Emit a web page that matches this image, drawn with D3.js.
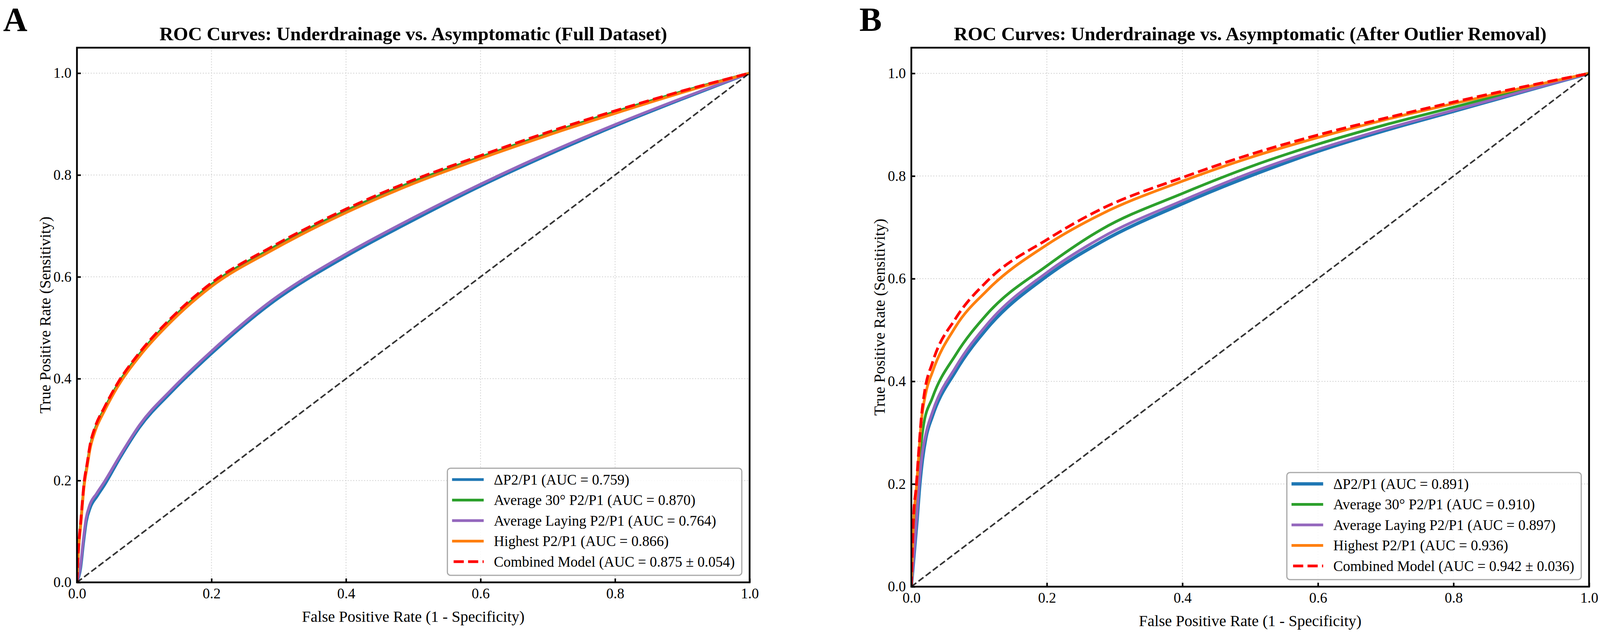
<!DOCTYPE html>
<html>
<head>
<meta charset="utf-8">
<script src="https://cdn.jsdelivr.net/npm/d3@7/dist/d3.min.js"></script>
<style>
  html, body { margin: 0; padding: 0; background: #fff; }
  svg { display: block; }
  text { font-family: "Liberation Serif", "Times New Roman", serif; }
</style>
</head>
<body>
<svg id="chart" width="4117" height="1617"></svg>
<script>
// ---------------- DATA ----------------
const seriesNames = ["ΔP2/P1", "Average 30° P2/P1", "Average Laying P2/P1", "Highest P2/P1", "Combined Model"];
const seriesColors = ["#1f77b4", "#2ca02c", "#9467bd", "#ff7f0e", "#ff0000"];
const aucLabelsA = ["0.759", "0.870", "0.764", "0.866", "0.875 ± 0.054"];
const aucLabelsB = ["0.891", "0.910", "0.897", "0.936", "0.942 ± 0.036"];
const xTicks = [0, 0.2, 0.4, 0.6, 0.8, 1.0];
const yTicks = [0, 0.2, 0.4, 0.6, 0.8, 1.0];
const titleA = "ROC Curves: Underdrainage vs. Asymptomatic (Full Dataset)";
const titleB = "ROC Curves: Underdrainage vs. Asymptomatic (After Outlier Removal)";
const xLabel = "False Positive Rate (1 - Specificity)";
const yLabel = "True Positive Rate (Sensitivity)";

// Panel A curves [FPR, TPR]
const rocA_delta = [[0,0],[0.0055,0.027],[0.0098,0.077],[0.014,0.119],[0.02,0.147],[0.03,0.169],[0.041,0.191],[0.064,0.244],[0.093,0.304],[0.1416,0.375],[0.2,0.449],[0.287,0.546],[0.4,0.64],[0.5,0.711],[0.6,0.778],[0.7,0.839],[0.8,0.896],[0.9,0.949],[1,1]];
const rocA_avg30 = [[0,0],[0.002,0.058],[0.006,0.122],[0.0105,0.191],[0.0153,0.232],[0.0192,0.264],[0.027,0.301],[0.0406,0.34],[0.06,0.387],[0.093,0.448],[0.1416,0.518],[0.2,0.585],[0.287,0.654],[0.4,0.73],[0.5,0.787],[0.6,0.835],[0.7,0.881],[0.8,0.924],[0.9,0.964],[1,1]];
const rocA_laying = [[0,0],[0.005,0.03],[0.0093,0.082],[0.0135,0.125],[0.019,0.152],[0.029,0.174],[0.04,0.196],[0.064,0.249],[0.093,0.309],[0.1416,0.38],[0.2,0.454],[0.287,0.551],[0.4,0.645],[0.5,0.716],[0.6,0.782],[0.7,0.843],[0.8,0.899],[0.9,0.951],[1,1]];
const rocA_highest = [[0,0],[0.002,0.055],[0.006,0.118],[0.0105,0.187],[0.0153,0.228],[0.0192,0.26],[0.027,0.297],[0.0406,0.336],[0.06,0.383],[0.093,0.444],[0.1416,0.514],[0.2,0.581],[0.287,0.65],[0.4,0.726],[0.5,0.783],[0.6,0.832],[0.7,0.878],[0.8,0.921],[0.9,0.962],[1,1]];
const rocA_combined = [[0,0],[0.002,0.06],[0.006,0.125],[0.0105,0.195],[0.0153,0.235],[0.0192,0.268],[0.027,0.305],[0.0406,0.343],[0.06,0.39],[0.093,0.451],[0.1416,0.521],[0.2,0.588],[0.287,0.657],[0.4,0.733],[0.5,0.79],[0.6,0.838],[0.7,0.884],[0.8,0.926],[0.9,0.965],[1,1]];

// Panel B curves [FPR, TPR]
const rocB_delta = [[0,0],[0.0085,0.13],[0.0125,0.198],[0.0165,0.248],[0.0215,0.29],[0.0311,0.332],[0.0656,0.42],[0.1117,0.503],[0.2,0.605],[0.2806,0.672],[0.4,0.746],[0.5,0.80],[0.6,0.848],[0.7,0.889],[0.8,0.926],[0.9,0.963],[1,1]];
const rocB_avg30 = [[0,0],[0.0061,0.138],[0.01,0.205],[0.0138,0.27],[0.0177,0.312],[0.0311,0.368],[0.0656,0.452],[0.1117,0.531],[0.2,0.625],[0.2806,0.696],[0.4,0.766],[0.5,0.818],[0.6,0.862],[0.7,0.9],[0.8,0.934],[0.9,0.968],[1,1]];
const rocB_laying = [[0,0],[0.0081,0.138],[0.0119,0.205],[0.0157,0.255],[0.0215,0.298],[0.0311,0.34],[0.0656,0.428],[0.1117,0.511],[0.2,0.612],[0.2806,0.68],[0.4,0.752],[0.5,0.806],[0.6,0.852],[0.7,0.892],[0.8,0.928],[0.9,0.964],[1,1]];
const rocB_highest = [[0,0],[0.0033,0.13],[0.0071,0.185],[0.0109,0.255],[0.0148,0.322],[0.0215,0.378],[0.0311,0.418],[0.0656,0.507],[0.1117,0.577],[0.2,0.666],[0.2806,0.726],[0.4,0.79],[0.5,0.836],[0.6,0.875],[0.7,0.91],[0.8,0.941],[0.9,0.971],[1,1]];
const rocB_combined = [[0,0],[0.0033,0.138],[0.0071,0.193],[0.0109,0.264],[0.0148,0.33],[0.0196,0.38],[0.0311,0.436],[0.0656,0.523],[0.1117,0.595],[0.2,0.676],[0.2806,0.736],[0.4,0.797],[0.5,0.842],[0.6,0.88],[0.7,0.913],[0.8,0.944],[0.9,0.973],[1,1]];

const diagonal = [[0,0],[1,1]];

// ---------------- DRAW ----------------
const FONT = "'Liberation Serif', 'Times New Roman', serif";
const svg = d3.select("#chart");
svg.append("rect").attr("width", 4117).attr("height", 1617).attr("fill", "#fff");

const panels = [
  { letter: "A", letterX: 8, title: titleA, aucs: aucLabelsA,
    curves: [rocA_delta, rocA_avg30, rocA_laying, rocA_highest, rocA_combined],
    widths: [7, 7, 7, 7, 7],
    box: { left: 197, right: 1919, top: 122, bottom: 1490 } },
  { letter: "B", letterX: 2200, title: titleB, aucs: aucLabelsB,
    curves: [rocB_delta, rocB_avg30, rocB_laying, rocB_highest, rocB_combined],
    widths: [8.5, 7, 7, 7, 7],
    box: { left: 2333, right: 4068, top: 122, bottom: 1501 } }
];

panels.forEach(p => {
  const b = p.box;
  const x = d3.scaleLinear().domain([0, 1]).range([b.left, b.right]);
  const y = d3.scaleLinear().domain([0, 1.05]).range([b.bottom, b.top]);
  const g = svg.append("g");

  // grid
  g.append("g").selectAll("line").data(xTicks).join("line")
    .attr("x1", d => x(d)).attr("x2", d => x(d))
    .attr("y1", b.top).attr("y2", b.bottom)
    .attr("stroke", "#d4d4d4").attr("stroke-width", 2).attr("stroke-dasharray", "3,4");
  g.append("g").selectAll("line").data(yTicks).join("line")
    .attr("y1", d => y(d)).attr("y2", d => y(d))
    .attr("x1", b.left).attr("x2", b.right)
    .attr("stroke", "#d4d4d4").attr("stroke-width", 2).attr("stroke-dasharray", "3,4");

  const clipId = "clip" + p.letter;
  svg.append("clipPath").attr("id", clipId).append("rect")
    .attr("x", b.left).attr("y", b.top).attr("width", b.right - b.left).attr("height", b.bottom - b.top);

  const line = d3.line().x(d => x(d[0])).y(d => y(d[1])).curve(d3.curveMonotoneX);
  const cg = g.append("g").attr("clip-path", `url(#${clipId})`);

  p.curves.forEach((c, i) => {
    const path = cg.append("path").datum(c)
      .attr("d", line)
      .attr("fill", "none")
      .attr("stroke", seriesColors[i])
      .attr("stroke-width", p.widths[i])
      .attr("stroke-linejoin", "round");
    if (i === 4) path.attr("stroke-dasharray", "26,11");
  });

  // diagonal reference
  cg.append("path").datum(diagonal)
    .attr("d", d3.line().x(d => x(d[0])).y(d => y(d[1])))
    .attr("fill", "none").attr("stroke", "#000").attr("stroke-opacity", 0.8)
    .attr("stroke-width", 4).attr("stroke-dasharray", "16,7");

  // axes (ticks inward)
  const xa = g.append("g").attr("transform", `translate(0,${b.bottom})`)
    .call(d3.axisBottom(x).tickValues(xTicks).tickFormat(d3.format(".1f")).tickSize(-10).tickPadding(15));
  const ya = g.append("g").attr("transform", `translate(${b.left},0)`)
    .call(d3.axisLeft(y).tickValues(yTicks).tickFormat(d3.format(".1f")).tickSize(-10).tickPadding(14));
  [xa, ya].forEach(a => {
    a.attr("font-family", null).attr("font-size", null);
    a.select(".domain").remove();
    a.selectAll(".tick line").attr("stroke", "#000").attr("stroke-width", 4);
    a.selectAll(".tick text").style("font-size", "37px").attr("fill", "#000")
      .style("font-family", FONT);
  });

  // spines
  g.append("rect").attr("x", b.left).attr("y", b.top)
    .attr("width", b.right - b.left).attr("height", b.bottom - b.top)
    .attr("fill", "none").attr("stroke", "#000").attr("stroke-width", 4.5);

  // title
  g.append("text").attr("x", (b.left + b.right) / 2).attr("y", 103)
    .attr("text-anchor", "middle").attr("font-size", 49).attr("font-weight", "bold")
    .text(p.title);

  // panel letter
  g.append("text").attr("x", p.letterX).attr("y", 79)
    .attr("font-size", 86).attr("font-weight", "bold").text(p.letter);

  // axis labels
  g.append("text").attr("x", (b.left + b.right) / 2).attr("y", b.bottom + 101)
    .attr("text-anchor", "middle").attr("font-size", 40).text(xLabel);
  g.append("text")
    .attr("transform", `translate(${b.left - 68},${(b.top + b.bottom) / 2}) rotate(-90)`)
    .attr("text-anchor", "middle").attr("font-size", 40).text(yLabel);

  // legend
  const lg = g.append("g");
  const frame = lg.append("rect");
  const texts = seriesNames.map((n, i) => lg.append("text")
    .attr("font-size", 37).attr("fill", "#000").attr("dy", "0.35em")
    .text(`${n} (AUC = ${p.aucs[i]})`));
  const maxW = d3.max(texts, t => t.node().getComputedTextLength());
  const boxW = 12 + 81 + 26 + maxW + 18;
  const boxH = 274;
  const bx = b.right - 20 - boxW;
  const by = b.bottom - 18 - boxH;
  frame.attr("x", bx).attr("y", by).attr("width", boxW).attr("height", boxH)
    .attr("rx", 8).attr("fill", "#fff").attr("fill-opacity", 0.85)
    .attr("stroke", "#a8a8a8").attr("stroke-width", 3);
  texts.forEach((t, i) => {
    const cy = by + 29 + i * 52.5;
    t.attr("x", bx + 12 + 81 + 26).attr("y", cy);
    const hl = lg.insert("line", "text")
      .attr("x1", bx + 12).attr("x2", bx + 12 + 81)
      .attr("y1", cy).attr("y2", cy)
      .attr("stroke", seriesColors[i]).attr("stroke-width", p.widths[i]);
    if (i === 4) hl.attr("stroke-dasharray", "26,11").attr("x1", bx + 16);
  });
});
</script>
</body>
</html>
